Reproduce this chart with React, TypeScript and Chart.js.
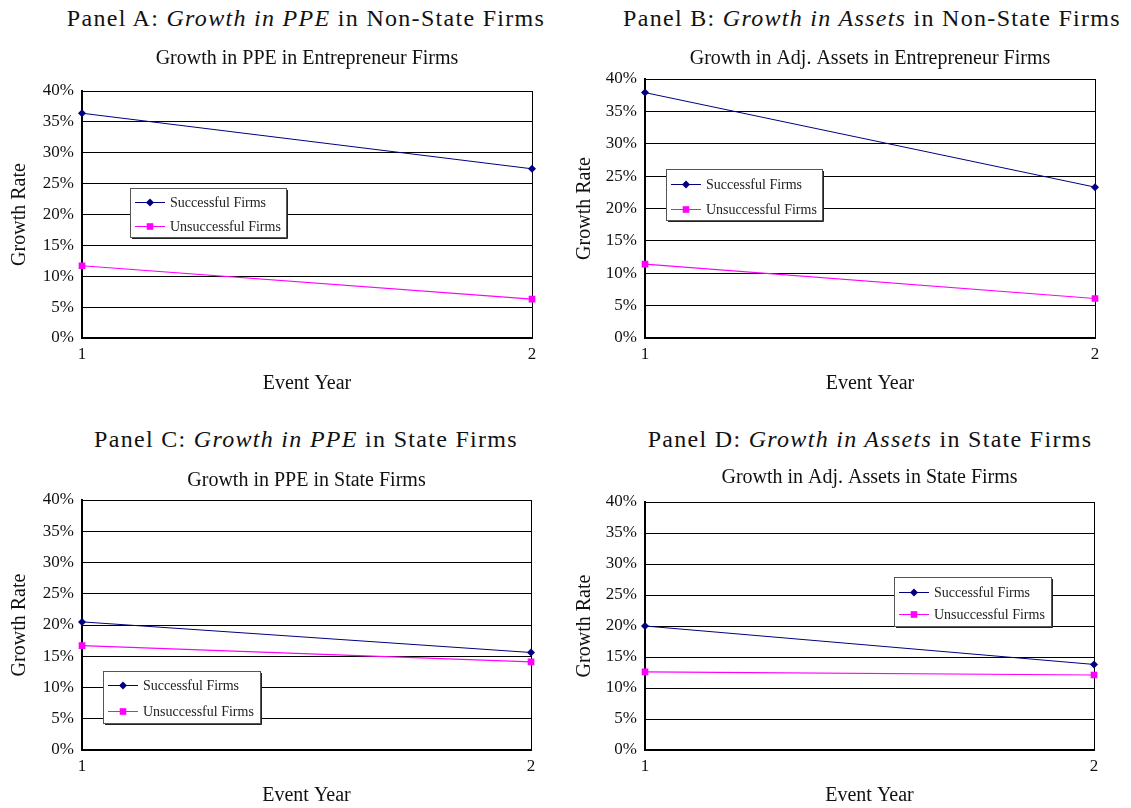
import React, { useEffect, useRef } from 'react';
import { Chart, registerables } from 'chart.js';

Chart.register(...registerables);

// ---------- data ----------
const eventYears = ['1', '2'];
const seriesLabels = ['Successful Firms', 'Unsuccessful Firms'];
const yTickValues = [0, 5, 10, 15, 20, 25, 30, 35, 40];

const ppeNonStateSuccessful = [36.4, 27.4];
const ppeNonStateUnsuccessful = [11.7, 6.3];
const assetsNonStateSuccessful = [37.9, 23.3];
const assetsNonStateUnsuccessful = [11.4, 6.1];
const ppeStateSuccessful = [20.5, 15.6];
const ppeStateUnsuccessful = [16.7, 14.1];
const assetsStateSuccessful = [20.0, 13.8];
const assetsStateUnsuccessful = [12.6, 12.1];

const panelHeadings = [
  ['Panel A: ', 'Growth in PPE', ' in Non-State Firms'],
  ['Panel B: ', 'Growth in Assets', ' in Non-State Firms'],
  ['Panel C: ', 'Growth in PPE', ' in State Firms'],
  ['Panel D: ', 'Growth in Assets', ' in State Firms'],
];
const chartTitles = [
  'Growth in PPE in Entrepreneur Firms',
  'Growth in Adj. Assets in Entrepreneur Firms',
  'Growth in PPE in State Firms',
  'Growth in Adj. Assets in State Firms',
];
const yAxisTitle = 'Growth Rate';
const xAxisTitle = 'Event Year';

// ---------- styles ----------
const FONT = '"Liberation Serif", "Times New Roman", serif';
const NAVY = '#000080';
const MAGENTA = '#FF00FF';

const layouts = [
  { headX: 306, headTop: 4, left: 0, top: 40, width: 560, height: 356, pad: { left: 8, right: 28 }, titlePad: { top: 7, bottom: 20 }, yW: 74, legend: { x: 48, y: 97, w: 156, h: 49, rows: [14, 38] } },
  { headX: 872, headTop: 4, left: 565, top: 40, width: 566, height: 356, pad: { left: 8, right: 36 }, titlePad: { top: 7, bottom: 8 }, yW: 72, legend: { x: 21, y: 90, w: 156, h: 51, rows: [15, 40] } },
  { headX: 306, headTop: 425, left: 0, top: 452, width: 560, height: 356, pad: { left: 8, right: 29 }, titlePad: { top: 17, bottom: 7 }, yW: 74, legend: { x: 21, y: 171, w: 157, h: 52, rows: [14, 40] } },
  { headX: 870, headTop: 425, left: 565, top: 452, width: 566, height: 356, pad: { left: 8, right: 37 }, titlePad: { top: 14, bottom: 12 }, yW: 72, legend: { x: 249, y: 75, w: 157, h: 49, rows: [15, 37] } },
];

const panelSeries = [
  [ppeNonStateSuccessful, ppeNonStateUnsuccessful],
  [assetsNonStateSuccessful, assetsNonStateUnsuccessful],
  [ppeStateSuccessful, ppeStateUnsuccessful],
  [assetsStateSuccessful, assetsStateUnsuccessful],
];

function drawMarker(ctx: CanvasRenderingContext2D, style: string, x: number, y: number, color: string) {
  ctx.save();
  ctx.fillStyle = color;
  ctx.beginPath();
  if (style === 'rectRot') {
    const r = 4;
    ctx.moveTo(x, y - r);
    ctx.lineTo(x + r, y);
    ctx.lineTo(x, y + r);
    ctx.lineTo(x - r, y);
    ctx.closePath();
  } else {
    const s = 3.3;
    ctx.rect(x - s, y - s, 2 * s, 2 * s);
  }
  ctx.fill();
  ctx.restore();
}

const frameAndLegendPlugin = {
  id: 'frameAndLegend',
  beforeDatasetsDraw(chart: any) {
    const { ctx, chartArea } = chart;
    ctx.save();
    ctx.strokeStyle = '#000';
    ctx.lineWidth = 1;
    ctx.beginPath();
    ctx.moveTo(Math.round(chartArea.right) + 0.5, chartArea.top);
    ctx.lineTo(Math.round(chartArea.right) + 0.5, chartArea.bottom);
    ctx.stroke();
    ctx.restore();
  },
  afterDatasetsDraw(chart: any, _args: any, opts: any) {
    const b = opts.box;
    if (!b) return;
    const { ctx, chartArea } = chart;
    const x = Math.round(chartArea.left + b.x);
    const y = Math.round(chartArea.top + b.y);
    ctx.save();
    ctx.fillStyle = '#fff';
    ctx.fillRect(x, y, b.w, b.h);
    ctx.strokeStyle = '#555';
    ctx.lineWidth = 1;
    ctx.strokeRect(x + 0.5, y + 0.5, b.w, b.h);
    ctx.strokeStyle = '#222';
    ctx.beginPath();
    ctx.moveTo(x + b.w + 1.5, y + 2);
    ctx.lineTo(x + b.w + 1.5, y + b.h + 1.5);
    ctx.lineTo(x + 2, y + b.h + 1.5);
    ctx.stroke();
    chart.data.datasets.forEach((ds: any, i: number) => {
      const ry = y + b.rows[i];
      ctx.strokeStyle = ds.borderColor;
      ctx.lineWidth = 1;
      ctx.beginPath();
      ctx.moveTo(x + 5, ry + 0.5);
      ctx.lineTo(x + 35, ry + 0.5);
      ctx.stroke();
      drawMarker(ctx, ds.pointStyle, x + 20, ry + 0.5, ds.borderColor);
      ctx.fillStyle = '#222';
      ctx.font = `14px ${FONT}`;
      ctx.textBaseline = 'middle';
      ctx.textAlign = 'left';
      ctx.fillText(ds.label, x + 40, ry + 1);
    });
    ctx.restore();
  },
};

function Panel({ index }: { index: number }) {
  const ref = useRef<HTMLCanvasElement | null>(null);
  const L = layouts[index];
  useEffect(() => {
    if (!ref.current) return;
    const [succ, unsucc] = panelSeries[index];
    const chart = new Chart(ref.current, {
      type: 'line',
      data: {
        labels: eventYears,
        datasets: [
          {
            label: seriesLabels[0],
            data: succ,
            borderColor: NAVY,
            backgroundColor: NAVY,
            borderWidth: 1,
            pointStyle: 'rectRot',
            pointRadius: 4,
            pointBorderWidth: 0,
            tension: 0,
          },
          {
            label: seriesLabels[1],
            data: unsucc,
            borderColor: MAGENTA,
            backgroundColor: MAGENTA,
            borderWidth: 1.2,
            pointStyle: 'rect',
            pointRadius: 4.7,
            pointBorderWidth: 0,
            tension: 0,
          },
        ],
      },
      options: {
        animation: false,
        responsive: false,
        devicePixelRatio: 1,
        layout: { padding: { left: L.pad.left, right: L.pad.right, top: 0, bottom: 0 } },
        plugins: {
          legend: { display: false },
          tooltip: { enabled: false },
          title: {
            display: true,
            text: chartTitles[index],
            fullSize: false,
            color: '#111',
            font: { family: FONT, size: 20, weight: 'normal', lineHeight: 1.2 },
            padding: L.titlePad,
          },
          frameAndLegend: { box: L.legend },
        } as any,
        scales: {
          x: {
            type: 'category',
            offset: false,
            grid: { display: false, drawTicks: false },
            border: { display: true, color: '#000', width: 2 },
            ticks: { color: '#111', font: { family: FONT, size: 17 }, padding: 6, maxRotation: 0 },
            title: { display: true, text: xAxisTitle, color: '#111', font: { family: FONT, size: 20, lineHeight: 1.2 }, padding: 0 },
            afterFit: (s: any) => { s.height = 58; },
          },
          y: {
            min: 0,
            max: 40,
            afterBuildTicks: (s: any) => { s.ticks = yTickValues.map((v) => ({ value: v })); },
            grid: { display: true, color: '#000', lineWidth: 1, drawTicks: false },
            border: { display: true, color: '#000', width: 2 },
            ticks: { color: '#111', font: { family: FONT, size: 17 }, padding: 8, callback: (v: any) => `${v}%` },
            title: { display: true, text: yAxisTitle, color: '#111', font: { family: FONT, size: 20, lineHeight: 1.2 }, padding: 0 },
            afterFit: (s: any) => { s.width = L.yW; },
          },
        },
      },
      plugins: [frameAndLegendPlugin as any],
    });
    return () => chart.destroy();
  }, [index]);
  const h = panelHeadings[index];
  return (
    <>
      <div
        style={{
          position: 'absolute',
          left: L.headX,
          top: L.headTop,
          transform: 'translateX(-50%)',
          whiteSpace: 'nowrap',
          fontFamily: FONT,
          fontSize: 24,
          lineHeight: '28px',
          letterSpacing: '1.3px',
          color: '#111',
        }}
      >
        {h[0]}
        <i>{h[1]}</i>
        {h[2]}
      </div>
      <canvas
        ref={ref}
        width={L.width}
        height={L.height}
        style={{ position: 'absolute', left: L.left, top: L.top, width: L.width, height: L.height }}
      />
    </>
  );
}

export default function App() {
  return (
    <div style={{ position: 'absolute', left: 0, top: 0, width: 1131, height: 808, overflow: 'hidden', background: '#fff' }}>
      {[0, 1, 2, 3].map((i) => (
        <Panel key={i} index={i} />
      ))}
    </div>
  );
}
